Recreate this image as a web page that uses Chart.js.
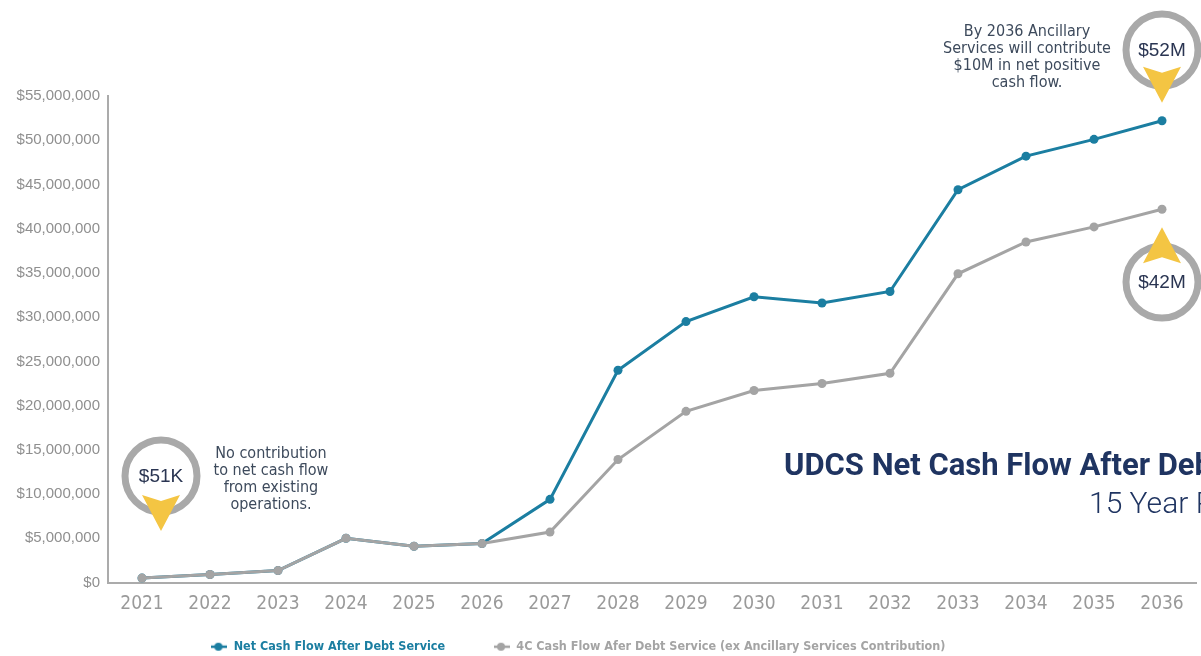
<!DOCTYPE html>
<html>
<head>
<meta charset="utf-8">
<script src="https://cdn.jsdelivr.net/npm/chart.js@4.4.1/dist/chart.umd.min.js"></script>
<style>
  html, body { margin:0; padding:0; background:#fff; }
  #wrap { position:relative; width:1201px; height:656px; }
</style>
</head>
<body>
<div id="wrap"><canvas id="cashChart"></canvas></div>
<script>
// UDCS net cash flow — two line series, yearly
const years     = ["2021","2022","2023","2024","2025","2026","2027","2028","2029","2030","2031","2032","2033","2034","2035","2036"];
const netFlow   = [0.5, 0.9, 1.35, 5.0, 4.1, 4.4, 9.4, 24.0, 29.5, 32.3, 31.6, 32.9, 44.4, 48.2, 50.1, 52.2].map(v => v * 1e6);
const exAncFlow = [0.5, 0.9, 1.35, 5.0, 4.1, 4.4, 5.7, 13.9, 19.35, 21.7, 22.5, 23.65, 34.9, 38.5, 40.2, 42.2].map(v => v * 1e6);
const yTicks    = [0, 5, 10, 15, 20, 25, 30, 35, 40, 45, 50, 55].map(v => v * 1e6);

const TEAL  = "#1b7ea1";
const GREY  = "#a4a4a4";
const NAVY  = "#1f3461";
const GOLD  = "#f4c543";
const NARROW = "'Liberation Sans Narrow', 'DejaVu Sans Condensed', sans-serif";

// legend marker: short line with a dot
function legendMark(color) {
    const c = document.createElement("canvas");
    c.width = 16; c.height = 10;
    const g = c.getContext("2d");
    g.strokeStyle = color; g.lineWidth = 2.5;
    g.beginPath(); g.moveTo(0, 5); g.lineTo(16, 5); g.stroke();
    g.fillStyle = color;
    g.beginPath(); g.arc(7, 5, 4, 0, Math.PI * 2); g.fill();
    return c;
}

// ── annotation callouts (circles, arrows, notes, title) ─────────────
function drawArrow(ctx, x, tipY, dir) {
    // dir = 1 points down, -1 points up
    const h = 36, w = 19, notch = 6;
    const baseY = tipY - dir * h;
    ctx.fillStyle = GOLD;
    ctx.beginPath();
    ctx.moveTo(x, tipY);
    ctx.lineTo(x - w, baseY);
    ctx.lineTo(x, baseY + dir * notch);
    ctx.lineTo(x + w, baseY);
    ctx.closePath();
    ctx.fill();
}
function drawRing(ctx, x, y, label) {
    ctx.strokeStyle = "#a9a9a9"; ctx.lineWidth = 7;
    ctx.beginPath(); ctx.arc(x, y, 36, 0, Math.PI * 2); ctx.stroke();
    ctx.fillStyle = "#2a3552";
    ctx.font = "19px 'Liberation Sans', Arial, sans-serif";
    ctx.textAlign = "center"; ctx.textBaseline = "middle";
    ctx.fillText(label, x, y + 1);
}
function drawNote(ctx, lines, x, y) {
    ctx.fillStyle = "#3d4a5c";
    ctx.font = "16px " + NARROW;
    ctx.textAlign = "center"; ctx.textBaseline = "alphabetic";
    lines.forEach((t, i) => ctx.fillText(t, x, y + i * 17));
}

const calloutPlugin = {
    id: "callouts",
    afterDatasetsDraw(chart) {
        const ctx = chart.ctx, xs = chart.scales.x, ys = chart.scales.y;
        const x0 = xs.getPixelForValue(0), xEnd = xs.getPixelForValue(years.length - 1);
        const yNet = ys.getPixelForValue(netFlow[netFlow.length - 1]);
        const yEx  = ys.getPixelForValue(exAncFlow[exAncFlow.length - 1]);
        ctx.save();
        // 2021
        drawRing(ctx, x0 + 19, 476, "$51K");
        drawArrow(ctx, x0 + 19, 531, 1);
        drawNote(ctx, ["No contribution", "to net cash flow", "from existing", "operations."], x0 + 129, 458);
        // 2036 top
        drawRing(ctx, xEnd, 50, "$52M");
        drawArrow(ctx, xEnd, yNet - 18, 1);
        drawNote(ctx, ["By 2036 Ancillary", "Services will contribute", "$10M in net positive", "cash flow."], 1027, 36);
        // 2036 bottom
        drawRing(ctx, xEnd, 282, "$42M");
        drawArrow(ctx, xEnd, yEx + 18, -1);
        // title block
        ctx.textAlign = "left"; ctx.textBaseline = "alphabetic";
        ctx.fillStyle = NAVY;
        ctx.font = "bold 31px Roboto, 'Liberation Sans', sans-serif";
        ctx.fillText("UDCS Net Cash Flow After Debt Service", 784, 475);
        ctx.font = "300 30px Roboto, 'Liberation Sans', sans-serif";
        ctx.fillText("15 Year Projection", 1089, 513);
        ctx.restore();
    }
};

const ctx = document.getElementById("cashChart").getContext("2d");
new Chart(ctx, {
    type: "line",
    data: {
        labels: years,
        datasets: [
            { label: "4C Cash Flow Afer Debt Service (ex Ancillary Services Contribution)          ",
              data: exAncFlow, borderColor: GREY, backgroundColor: GREY,
              borderWidth: 3, pointRadius: 4.5, pointBorderWidth: 0, tension: 0 },
            { label: "Net Cash Flow After Debt Service            ",
              data: netFlow, borderColor: TEAL, backgroundColor: TEAL,
              borderWidth: 3, pointRadius: 4.5, pointBorderWidth: 0, tension: 0 },
        ],
    },
    options: {
        responsive: true, maintainAspectRatio: false, animation: false,
        layout: { padding: { top: 96, left: 0, right: 5, bottom: -7 } },
        plugins: {
            tooltip: { enabled: false },
            legend: {
                position: "bottom", reverse: true,
                labels: {
                    usePointStyle: true, pointStyleWidth: 16, boxHeight: 10, padding: 2,
                    font: { family: NARROW, size: 12.5, weight: "bold" },
                    generateLabels(chart) {
                        return chart.data.datasets.map((ds, i) => ({
                            text: ds.label, datasetIndex: i,
                            fontColor: ds.borderColor,
                            pointStyle: legendMark(ds.borderColor),
                            fillStyle: ds.borderColor, strokeStyle: ds.borderColor,
                            lineWidth: 0, hidden: false,
                        }));
                    },
                },
            },
        },
        scales: {
            x: {
                offset: true,
                grid: { drawOnChartArea: false, drawTicks: false },
                border: { color: "#ababab", width: 2 },
                ticks: { color: "#9a9a9a", padding: 10, font: { family: NARROW, size: 19 } },
                afterFit: s => { s.height = 56; },
            },
            y: {
                min: 0, max: 55e6,
                afterBuildTicks: s => { s.ticks = yTicks.map(v => ({ value: v })); },
                grid: { drawOnChartArea: false, drawTicks: false },
                border: { color: "#ababab", width: 2 },
                ticks: {
                    color: "#8f8f8f", padding: 8,
                    font: { family: "'Liberation Sans', Arial, sans-serif", size: 15 },
                    callback: v => "$" + Number(v).toLocaleString("en-US"),
                },
                afterFit: s => { s.width = 108; },
            },
        },
    },
    plugins: [calloutPlugin],
});
</script>
</body>
</html>
